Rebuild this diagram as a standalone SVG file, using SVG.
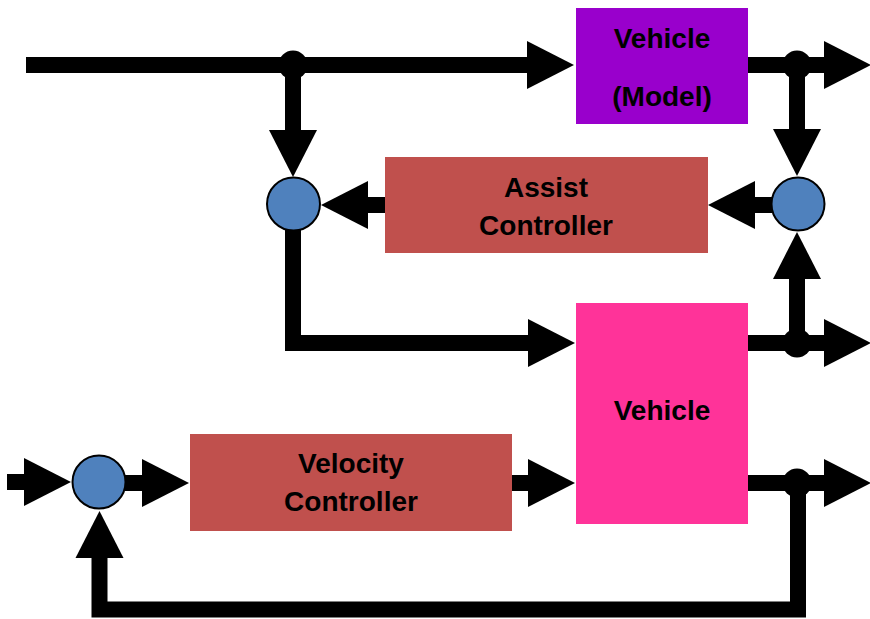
<svg xmlns="http://www.w3.org/2000/svg" width="870" height="619" viewBox="0 0 870 619">
  <style>
    .wire { fill: none; stroke: #000; stroke-width: 16; stroke-linejoin: miter; stroke-linecap: butt; }
    .dot { fill: #000; }
    .sum { fill: #4F81BD; stroke: #000; stroke-width: 2; }
    .ctrl { fill: #C0504D; }
    .label { font-family: "Liberation Sans", Arial, sans-serif; font-weight: bold; font-size: 28px; fill: #000; text-anchor: middle; }
  </style>
  <defs>
    <marker id="arrow" markerUnits="userSpaceOnUse" markerWidth="48" markerHeight="48" refX="0" refY="24" orient="auto" overflow="visible">
      <path d="M0,0 L47,24 L0,48 Z" fill="#000"/>
    </marker>
  </defs>

  <!-- signal lines -->
  <g id="connectors">
    <path class="wire" d="M26,65 H527" marker-end="url(#arrow)"/>
    <path class="wire" d="M293,65 V130" marker-end="url(#arrow)"/>
    <path class="wire" d="M386,205 H368" marker-end="url(#arrow)"/>
    <path class="wire" d="M293,230 V343 H528" marker-end="url(#arrow)"/>
    <path class="wire" d="M747,65 H824" marker-end="url(#arrow)"/>
    <path class="wire" d="M797,65 V129" marker-end="url(#arrow)"/>
    <path class="wire" d="M772,205 H755" marker-end="url(#arrow)"/>
    <path class="wire" d="M747,343 H824" marker-end="url(#arrow)"/>
    <path class="wire" d="M797,343 V279" marker-end="url(#arrow)"/>
    <path class="wire" d="M747,483 H824" marker-end="url(#arrow)"/>
    <path class="wire" d="M798,483 V609.5 H99.5 V558" marker-end="url(#arrow)"/>
    <path class="wire" d="M7,482 H24" marker-end="url(#arrow)"/>
    <path class="wire" d="M125,483 H142" marker-end="url(#arrow)"/>
    <path class="wire" d="M511,483 H528" marker-end="url(#arrow)"/>
    <!-- branch points -->
    <circle class="dot" cx="293" cy="65" r="14.5"/>
    <circle class="dot" cx="797" cy="65" r="14.5"/>
    <circle class="dot" cx="797" cy="343" r="14.5"/>
    <circle class="dot" cx="797" cy="483" r="14.5"/>
  </g>

  <g id="vehicle-model">
    <rect x="576" y="8" width="172" height="116" fill="#9900CC"/>
    <text class="label" x="662" y="48">Vehicle</text>
    <text class="label" x="662" y="106">(Model)</text>
  </g>

  <g id="assist-controller">
    <rect class="ctrl" x="385" y="157" width="323" height="96"/>
    <text class="label" x="546" y="197">Assist</text>
    <text class="label" x="546" y="235">Controller</text>
  </g>

  <g id="vehicle">
    <rect x="576" y="303" width="172" height="221" fill="#FF3399"/>
    <text class="label" x="662" y="420">Vehicle</text>
  </g>

  <g id="velocity-controller">
    <rect class="ctrl" x="190" y="434" width="322" height="97"/>
    <text class="label" x="351" y="473">Velocity</text>
    <text class="label" x="351" y="511">Controller</text>
  </g>

  <g id="sum-assist-in">
    <circle class="sum" cx="293.5" cy="204" r="26.5"/>
  </g>
  <g id="sum-assist-err">
    <circle class="sum" cx="798" cy="204" r="26.5"/>
  </g>
  <g id="sum-velocity">
    <circle class="sum" cx="99" cy="482" r="26.5"/>
  </g>
</svg>
